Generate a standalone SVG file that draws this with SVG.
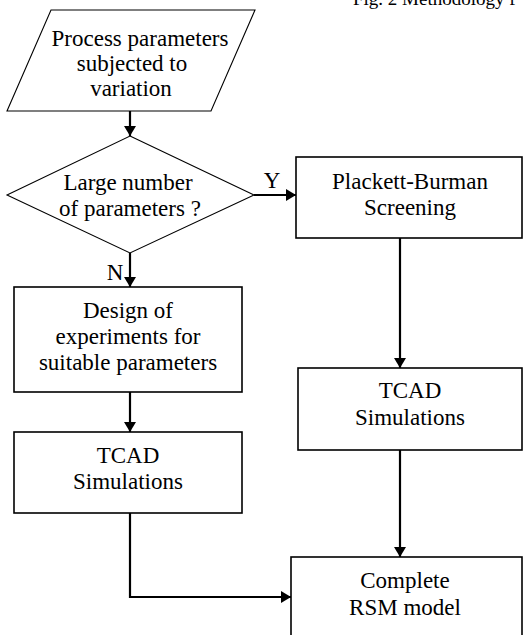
<svg xmlns="http://www.w3.org/2000/svg" width="526" height="635" viewBox="0 0 526 635">
<defs>
<style>
text{font-family:'Liberation Serif','DejaVu Serif',serif;font-size:23px;fill:#000;text-anchor:middle}
.shape{fill:#fff;stroke:#000;stroke-width:1.6}
.thin{fill:#fff;stroke:#000;stroke-width:1.1}
.conn{fill:none;stroke:#000;stroke-width:2.2}
</style>
<marker id="ah" markerWidth="10" markerHeight="12" refX="10" refY="6" orient="auto" markerUnits="userSpaceOnUse" viewBox="0 0 10 12">
<path d="M0,0 L10,6 L0,12 Z" fill="#000"/>
</marker>
</defs>
<rect width="526" height="635" fill="#fff"/>
<text x="353" y="5" font-family="Liberation Serif, serif" style="text-anchor:start;font-size:19px">Fig. 2 Methodology f</text>

<g id="input">
<polygon class="thin" points="51,10 255,10 211,111 7,111"/>
<text x="140" y="46" font-family="Liberation Serif, serif">Process parameters</text>
<text x="132" y="71" font-family="Liberation Serif, serif">subjected to</text>
<text x="131" y="96" font-family="Liberation Serif, serif">variation</text>
</g>

<g id="decision">
<polygon class="thin" points="130,136 254,195 130,253 7,195"/>
<text x="128" y="190" font-family="Liberation Serif, serif">Large number</text>
<text x="130" y="216" font-family="Liberation Serif, serif">of parameters ?</text>
</g>

<g id="pb">
<rect class="shape" x="296" y="157" width="226" height="81"/>
<text x="410" y="189" font-family="Liberation Serif, serif">Plackett-Burman</text>
<text x="410" y="215" font-family="Liberation Serif, serif">Screening</text>
</g>

<g id="doe">
<rect class="shape" x="14" y="287" width="228" height="105"/>
<text x="128" y="318" font-family="Liberation Serif, serif">Design of</text>
<text x="128" y="344" font-family="Liberation Serif, serif">experiments for</text>
<text x="128" y="370" font-family="Liberation Serif, serif">suitable parameters</text>
</g>

<g id="tcad-left">
<rect class="shape" x="14" y="432" width="228" height="81"/>
<text x="128" y="463" font-family="Liberation Serif, serif">TCAD</text>
<text x="128" y="489" font-family="Liberation Serif, serif">Simulations</text>
</g>

<g id="tcad-right">
<rect class="shape" x="298" y="368" width="224" height="82"/>
<text x="410" y="398" font-family="Liberation Serif, serif">TCAD</text>
<text x="410" y="425" font-family="Liberation Serif, serif">Simulations</text>
</g>

<g id="rsm">
<rect class="shape" x="291" y="557" width="231" height="100"/>
<text x="405" y="588" font-family="Liberation Serif, serif">Complete</text>
<text x="405" y="615" font-family="Liberation Serif, serif">RSM model</text>
</g>

<g id="connectors">
<line class="conn" x1="130" y1="111" x2="130" y2="136" marker-end="url(#ah)"/>
<line class="conn" x1="254" y1="195" x2="296" y2="195" marker-end="url(#ah)"/>
<line class="conn" x1="130" y1="253" x2="130" y2="287" marker-end="url(#ah)"/>
<line class="conn" x1="400" y1="238" x2="400" y2="368" marker-end="url(#ah)"/>
<line class="conn" x1="130" y1="392" x2="130" y2="432" marker-end="url(#ah)"/>
<line class="conn" x1="400" y1="450" x2="400" y2="557" marker-end="url(#ah)"/>
<polyline class="conn" points="130,513 130,597 291,597" marker-end="url(#ah)"/>
<text x="272" y="188" font-family="Liberation Serif, serif">Y</text>
<text x="115" y="280" font-family="Liberation Serif, serif">N</text>
</g>
</svg>
